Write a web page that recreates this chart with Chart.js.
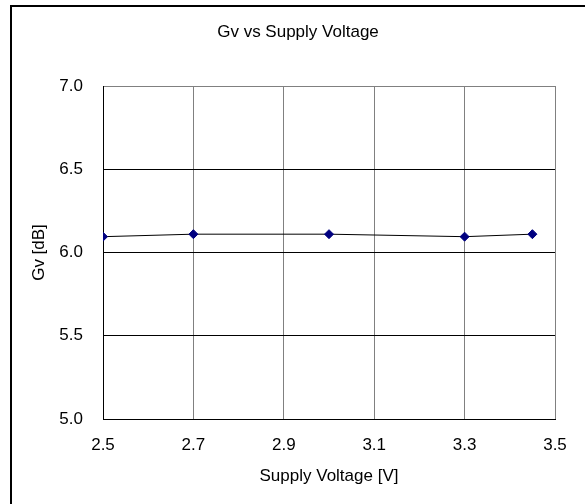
<!DOCTYPE html>
<html>
<head>
<meta charset="utf-8">
<script src="https://cdn.jsdelivr.net/npm/chart.js@4/dist/chart.umd.min.js"></script>
<style>
  html, body { margin: 0; padding: 0; background: #ffffff; }
  #wrap { width: 585px; height: 504px; position: relative; }
</style>
</head>
<body>
<div id="wrap"><canvas id="c" width="585" height="504"></canvas></div>
<script>
const chartTitle = "Gv vs Supply Voltage";
const xAxisTitle = "Supply Voltage [V]";
const yAxisTitle = "Gv [dB]";
const supplyVoltage = [2.5, 2.7, 3.0, 3.3, 3.45];
const gvValues = [6.095, 6.11, 6.11, 6.095, 6.11];
const xTicks = [2.5, 2.7, 2.9, 3.1, 3.3, 3.5];
const yTicks = [5.0, 5.5, 6.0, 6.5, 7.0];

const FONT = "'Liberation Sans', Arial, sans-serif";
const FS = 17;

const frame = {
  id: 'frame',
  beforeDraw(chart) {
    const ctx = chart.ctx;
    ctx.save();
    ctx.fillStyle = '#ffffff';
    ctx.fillRect(0, 0, chart.width, chart.height);
    ctx.strokeStyle = '#000000';
    ctx.lineWidth = 2;
    ctx.beginPath();
    ctx.moveTo(11, 504);
    ctx.lineTo(11, 6);
    ctx.lineTo(585, 6);
    ctx.stroke();
    ctx.restore();
  },
  afterDraw(chart) {
    const ctx = chart.ctx;
    ctx.save();
    ctx.fillStyle = '#000000';
    ctx.font = FS + "px " + FONT;
    ctx.textAlign = 'center';
    ctx.textBaseline = 'middle';
    ctx.fillText(chartTitle, 298, 32);
    ctx.restore();
  }
};

new Chart(document.getElementById('c'), {
  type: 'scatter',
  data: {
    datasets: [{
      data: supplyVoltage.map((x, i) => ({ x: x, y: gvValues[i] })),
      showLine: true,
      borderColor: '#000000',
      borderWidth: 1,
      pointStyle: 'rectRot',
      pointRadius: 4.5,
      pointBackgroundColor: '#000080',
      pointBorderColor: '#000080',
      pointBorderWidth: 1
    }]
  },
  plugins: [frame],
  options: {
    responsive: false,
    animation: false,
    devicePixelRatio: 1,
    layout: { padding: { left: 0, right: 30, top: 86, bottom: 0 } },
    plugins: {
      legend: { display: false },
      tooltip: { enabled: false },
      title: { display: false }
    },
    scales: {
      x: {
        type: 'linear',
        min: xTicks[0],
        max: xTicks[xTicks.length - 1],
        afterBuildTicks(scale) { scale.ticks = xTicks.map(v => ({ value: v })); },
        afterFit(scale) { scale.height = 85; },
        ticks: {
          color: '#000000',
          font: { family: FONT, size: FS },
          padding: 16,
          maxRotation: 0,
          callback: v => Number(v).toFixed(1)
        },
        grid: { color: '#808080', lineWidth: 1, drawTicks: false },
        border: { color: '#000000', width: 1 },
        title: {
          display: true,
          text: xAxisTitle,
          color: '#000000',
          font: { family: FONT, size: FS },
          padding: { top: 0, bottom: 17 }
        }
      },
      y: {
        type: 'linear',
        min: yTicks[0],
        max: yTicks[yTicks.length - 1],
        afterBuildTicks(scale) { scale.ticks = yTicks.map(v => ({ value: v })); },
        afterFit(scale) { scale.width = 103; },
        ticks: {
          color: '#000000',
          font: { family: FONT, size: FS },
          padding: 20,
          callback: v => Number(v).toFixed(1)
        },
        grid: {
          color: ctx => (ctx.tick && ctx.tick.value === yTicks[yTicks.length - 1]) ? '#808080' : '#000000',
          lineWidth: 1,
          drawTicks: false
        },
        border: { color: '#000000', width: 1 },
        title: {
          display: true,
          text: yAxisTitle,
          color: '#000000',
          font: { family: FONT, size: FS },
          padding: { top: 29, bottom: 0 }
        }
      }
    }
  }
});
</script>
</body>
</html>
